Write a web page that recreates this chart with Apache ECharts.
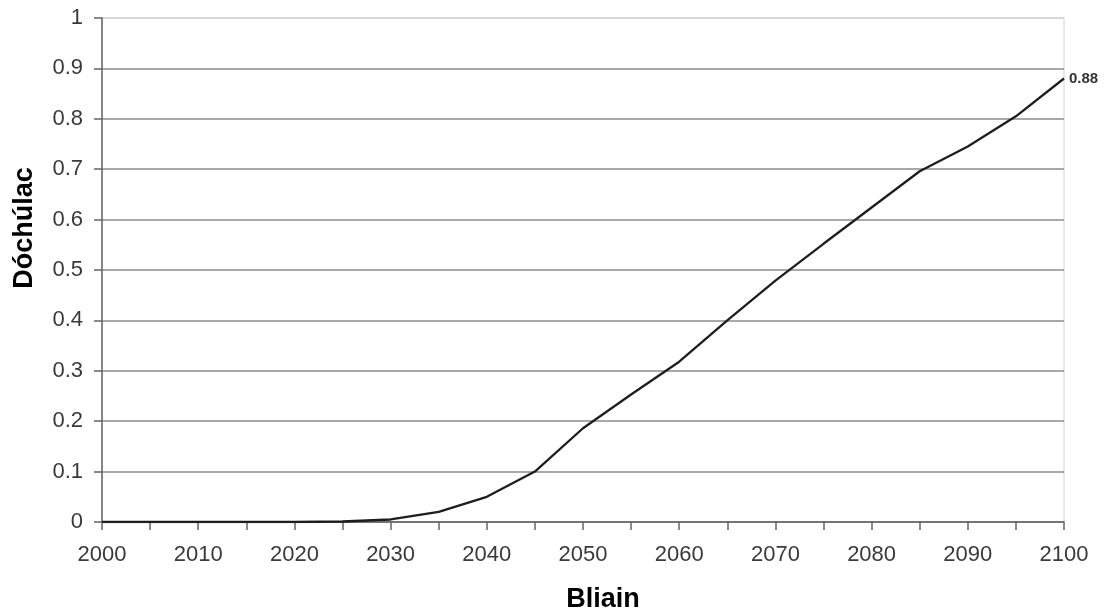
<!DOCTYPE html>
<html>
<head>
<meta charset="utf-8">
<script src="https://cdn.jsdelivr.net/npm/echarts@6/dist/echarts.min.js"></script>
<style>html,body{margin:0;padding:0;background:#fff}#c{width:1105px;height:613px}</style>
</head>
<body>
<div id="c"></div>
<script>
const years = [2000,2005,2010,2015,2020,2025,2030,2035,2040,2045,2050,2055,2060,2065,2070,2075,2080,2085,2090,2095,2100];
const values = [0,0,0,0,0,0.001,0.005,0.02,0.05,0.1,0.186,0.253,0.318,0.4,0.479,0.552,0.624,0.696,0.745,0.805,0.88];
const yTicks = [0,0.1,0.2,0.3,0.4,0.5,0.6,0.7,0.8,0.9,1];
const xName = 'Bliain';
const yName = 'Dóchúlac';

const FONT = 'Liberation Sans, Arial, sans-serif';
const gridColors = yTicks.map((t, i) => i === yTicks.length - 1 ? '#d2d2d2' : '#8c8c8c');

const chart = echarts.init(document.getElementById('c'));
chart.setOption({
  animation: false,
  backgroundColor: '#fff',
  textStyle: {fontFamily: FONT},
  grid: {left: 102, right: 41, top: 18, bottom: 91, show: true, borderColor: '#d2d2d2', borderWidth: 1},
  xAxis: {
    type: 'value', min: 2000, max: 2100, interval: 5,
    axisLine: {lineStyle: {color: '#666', width: 1.5}},
    axisTick: {show: true, length: 8, lineStyle: {color: '#666', width: 1.5}},
    axisLabel: {fontSize: 22, color: '#3a3a3a', margin: 22, fontFamily: FONT,
      formatter: v => (v % 10 === 0 ? String(v) : '')},
    splitLine: {show: false}
  },
  yAxis: {
    type: 'value', min: 0, max: 1, interval: 0.1,
    axisLine: {show: true, lineStyle: {color: '#666', width: 1.5}},
    axisTick: {show: true, length: 8, lineStyle: {color: '#666', width: 1.5}},
    axisLabel: {fontSize: 22, color: '#3a3a3a', margin: 19, fontFamily: FONT,
      formatter: v => {const t = yTicks.find(x => Math.abs(x - v) < 1e-9); return t === undefined ? '' : String(t);}},
    splitLine: {show: true, lineStyle: {color: gridColors, width: 1.5}}
  },
  graphic: [
    {type: 'text', x: 603, y: 600, style: {text: xName, font: 'bold 27px ' + FONT, fill: '#000', textAlign: 'center', textVerticalAlign: 'middle'}},
    {type: 'text', x: 25, y: 228, rotation: Math.PI / 2, style: {text: yName, font: 'bold 27px ' + FONT, fill: '#000', textAlign: 'center', textVerticalAlign: 'middle'}}
  ],
  series: [{
    type: 'line',
    data: years.map((y, i) => [y, values[i]]),
    showSymbol: false,
    symbol: 'none',
    lineStyle: {color: '#1e1e1e', width: 2.3},
    endLabel: {show: true, formatter: p => String(p.value[1]), fontSize: 15, fontWeight: 'bold', color: '#333', distance: 5, fontFamily: FONT}
  }]
});
</script>
</body>
</html>
